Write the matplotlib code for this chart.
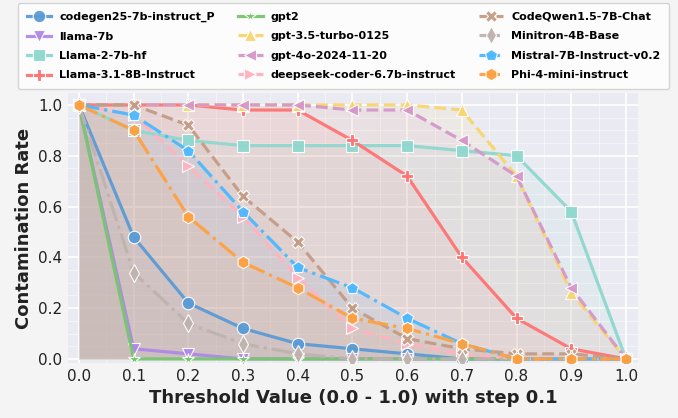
import matplotlib
matplotlib.use("Agg")
import matplotlib.pyplot as plt
import numpy as np

thresholds = [0.0, 0.1, 0.2, 0.3, 0.4, 0.5, 0.6, 0.7, 0.8, 0.9, 1.0]

models = ["codegen25-7b-instruct_P", "llama-7b", "Llama-2-7b-hf", "Llama-3.1-8B-Instruct",
          "gpt2", "gpt-3.5-turbo-0125", "gpt-4o-2024-11-20", "deepseek-coder-6.7b-instruct",
          "CodeQwen1.5-7B-Chat", "Minitron-4B-Base", "Mistral-7B-Instruct-v0.2", "Phi-4-mini-instruct"]

codegen = [1.0, 0.48, 0.22, 0.12, 0.06, 0.04, 0.02, 0.0, 0.0, 0.0, 0.0]
llama7b = [1.0, 0.04, 0.02, 0.0, 0.0, 0.0, 0.0, 0.0, 0.0, 0.0, 0.0]
llama2 = [1.0, 0.90, 0.86, 0.84, 0.84, 0.84, 0.84, 0.82, 0.80, 0.58, 0.0]
llama31 = [1.0, 1.0, 1.0, 0.98, 0.98, 0.86, 0.72, 0.40, 0.16, 0.04, 0.0]
gpt2 = [1.0, 0.0, 0.0, 0.0, 0.0, 0.0, 0.0, 0.0, 0.0, 0.0, 0.0]
gpt35 = [1.0, 1.0, 1.0, 1.0, 1.0, 1.0, 1.0, 0.98, 0.72, 0.26, 0.0]
gpt4o = [1.0, 1.0, 1.0, 1.0, 1.0, 0.98, 0.98, 0.86, 0.72, 0.28, 0.0]
deepseek = [1.0, 0.96, 0.76, 0.56, 0.32, 0.12, 0.06, 0.02, 0.0, 0.0, 0.0]
codeqwen = [1.0, 1.0, 0.92, 0.64, 0.46, 0.20, 0.08, 0.04, 0.02, 0.02, 0.0]
minitron = [1.0, 0.34, 0.14, 0.06, 0.02, 0.0, 0.0, 0.0, 0.0, 0.0, 0.0]
mistral = [1.0, 0.96, 0.82, 0.58, 0.36, 0.28, 0.16, 0.06, 0.0, 0.0, 0.0]
phi4 = [1.0, 0.90, 0.56, 0.38, 0.28, 0.16, 0.12, 0.06, 0.0, 0.0, 0.0]

series = [codegen, llama7b, llama2, llama31, gpt2, gpt35, gpt4o, deepseek,
          codeqwen, minitron, mistral, phi4]

colors = ["#5B9BD5", "#B088E8", "#8FD8CE", "#FF7474", "#77C66E", "#F9D56E",
          "#D597C9", "#FFB3C1", "#C49C86", "#BFB3AE", "#4DB8FF", "#FFA040"]
markers = ["o", "v", "s", "P", "*", "^", "<", ">", "X", "d", "p", "h"]
styles = ["-", "-", "-", "-", "-", "--", "--", "--", "--", "-.", "-.", "-."]

fig = plt.figure(figsize=(6.78, 4.18), dpi=100, facecolor="#F4F4F4")
ax = fig.add_axes([68 / 678, 55 / 418, 570 / 678, 270 / 418])
ax.set_facecolor("#EAEAF2")

for name, vals, c, m, ls in zip(models, series, colors, markers, styles):
    ax.fill_between(thresholds, vals, 0, color=c, alpha=0.09, linewidth=0)
    ax.plot(thresholds, vals, linestyle=ls, color=c, marker=m, markersize=9,
            linewidth=2.3, markeredgecolor="white", markeredgewidth=0.8, label=name, alpha=0.95)

ax.set_xlim(-0.02, 1.022)
ax.set_ylim(-0.016, 1.047)
ax.set_xticks(np.arange(0, 1.01, 0.1))
ax.set_xticklabels([f"{t:.1f}" for t in np.arange(0, 1.01, 0.1)])
ax.set_yticks(np.arange(0, 1.01, 0.2))
ax.set_yticklabels([f"{t:.1f}" for t in np.arange(0, 1.01, 0.2)])
ax.set_xticks(np.arange(0, 1.01, 0.05), minor=True)
ax.set_yticks(np.arange(0, 1.01, 0.05), minor=True)
ax.grid(True, which="major", color="white", linewidth=1.2)
ax.grid(True, which="minor", color="white", linewidth=0.6, alpha=0.6)
ax.set_axisbelow(True)
ax.tick_params(axis="both", which="both", length=0, labelsize=11, colors="#222222", pad=4)
for s in ax.spines.values():
    s.set_visible(False)

ax.set_xlabel("Threshold Value (0.0 - 1.0) with step 0.1", fontsize=13, fontweight="bold", color="#222222")
ax.set_ylabel("Contamination Rate", fontsize=13, fontweight="bold", color="#222222")

leg = fig.legend(loc="upper left", bbox_to_anchor=(18 / 678, 1 - 3 / 418), ncol=3,
                 frameon=True, facecolor="white", edgecolor="#CCCCCC",
                 prop={"weight": "bold", "size": 8}, columnspacing=2.1,
                 handlelength=2.2, handletextpad=0.7, borderpad=0.8, labelspacing=0.85,
                 borderaxespad=0)

fig.savefig("out.png", dpi=100, facecolor=fig.get_facecolor())
